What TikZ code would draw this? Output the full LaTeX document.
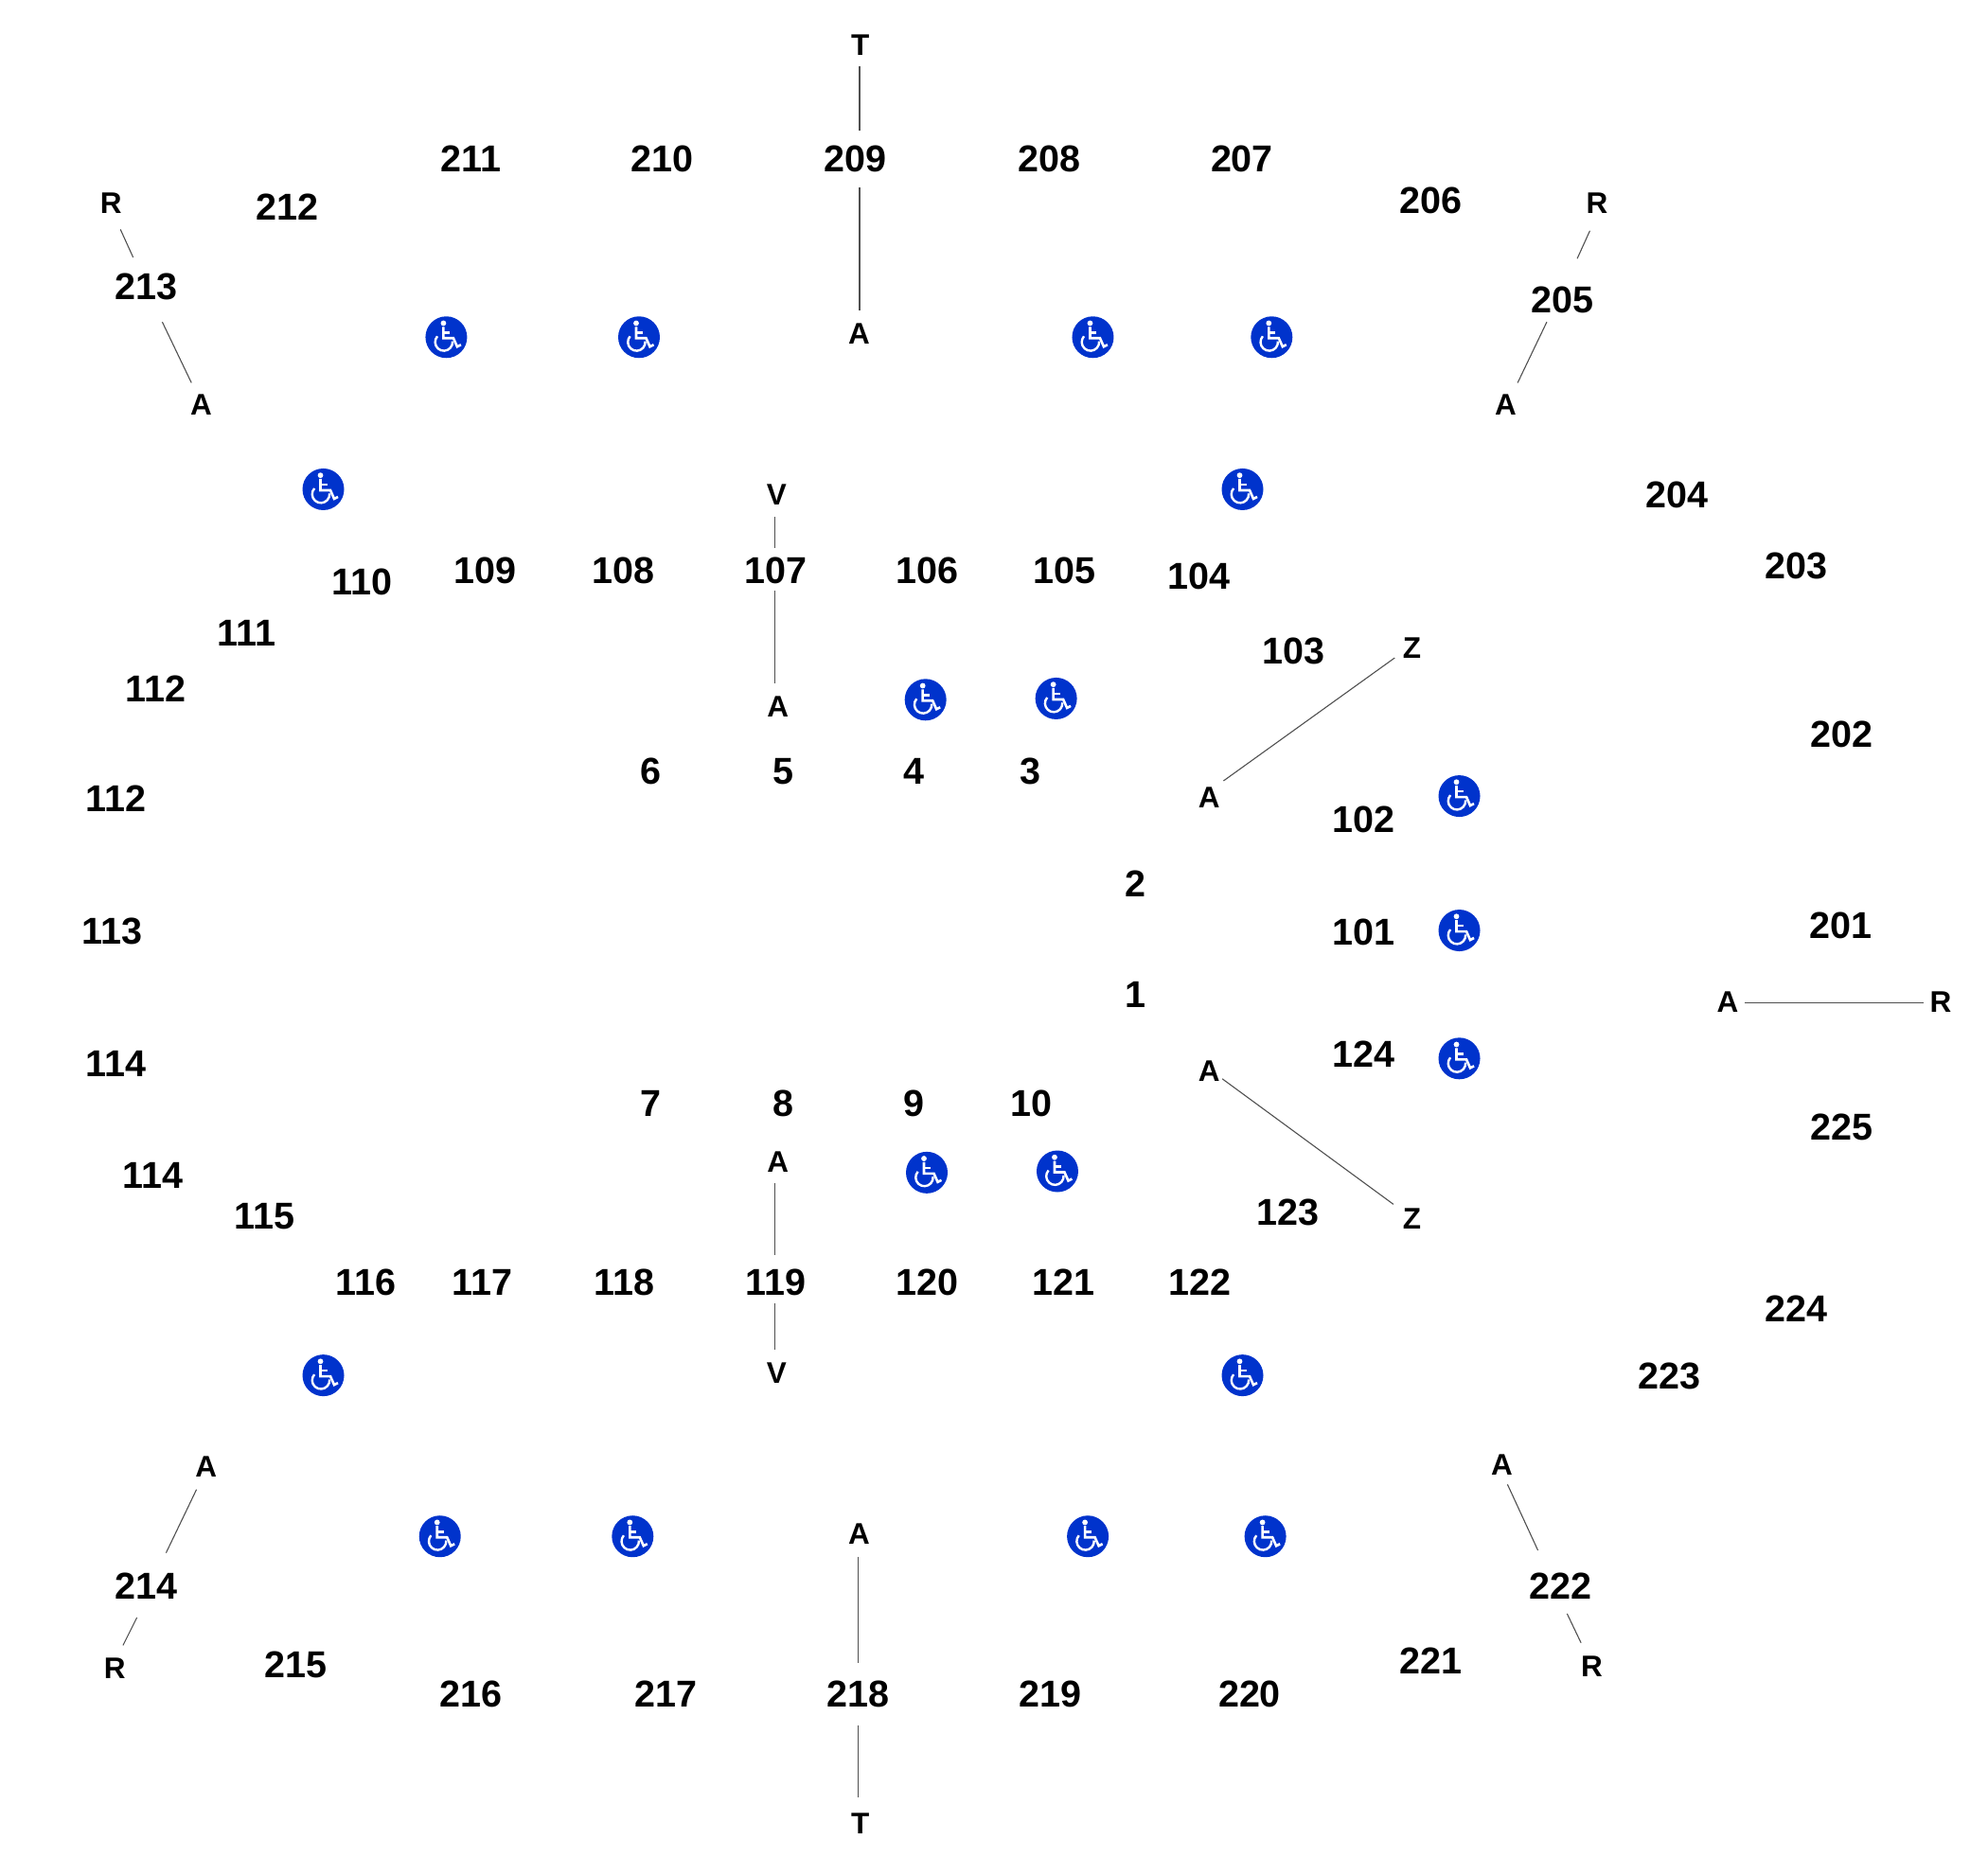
\documentclass[tikz,border=0pt]{standalone}
\usepackage{fontspec}
\setmainfont{Liberation Sans}
\definecolor{wcblue}{HTML}{0033CC}
\definecolor{linegray}{HTML}{505050}
\tikzset{
  num/.style={inner sep=0pt,xshift=0.8pt,yshift=-0.4pt,font=\fontsize{39.5}{39.5}\bfseries\selectfont},
  let/.style={inner sep=0pt,xshift=0.8pt,yshift=-0.4pt,font=\fontsize{31.5}{31.5}\bfseries\selectfont},
  conn/.style={draw=linegray,line width=1.1pt},
  wcdisc/.style={circle,fill=wcblue,minimum size=44pt,inner sep=0pt},
  wcglyph/.style={draw=white,line width=2.6pt,line cap=butt,line join=miter},
}
\newcommand{\wheel}[3]{%
  \node[wcdisc] (#1) at (#2,#3) {};
  \begin{scope}[shift={(#1.center)}]
    \fill[white] (-3pt,14.8pt) circle (2.9pt);
    \draw[wcglyph] (-3pt,11pt) -- (-3pt,-1pt) -- (7.5pt,-1pt) -- (11.5pt,-10pt) -- (15.5pt,-8pt);
    \draw[wcglyph] (-3pt,5pt) -- (4pt,5pt);
    \draw[wcglyph,line width=2.4pt] (-9.4pt,1pt) arc[start angle=138,end angle=365,radius=9.2pt];
  \end{scope}}
\newcommand{\link}[6]{\draw[conn] ([shift={(#2)},shift={(-0.6,-0.3)}]#1.center) -- ([shift={(#5)},shift={(-0.6,-0.3)}]#4.center);}
\begin{document}
\begin{tikzpicture}[x=1.33929pt,y=-1.33929pt]
\useasboundingbox (0,0) rectangle (1568,1478.4);
\foreach \n/\x/\y in {211/371/125,210/522/125,209/674/125,208/827/125,207/979/125,206/1128/158,205/1232/236,204/1322/390,203/1416/446,202/1452/579,201/1451/730,225/1452/889,224/1416/1032,223/1316/1085,222/1230/1251,221/1128/1310,220/985/1336,219/828/1336,218/676/1336,217/525/1336,216/371/1336,215/233/1313,214/115/1251,213/115/226,212/226/163,110/285/459,109/382/450,108/491/450,107/611/450,106/731/450,105/839/450,104/945/454,103/1020/513,102/1075/646,101/1075/735,124/1075/831,123/1015/956,122/946/1011,121/838/1011,120/731/1011,119/611/1011,118/492/1011,117/380/1011,116/288/1011,115/208/959,113/88/734,111/194/499,6/513/608,5/617/608,4/720/608,3/812/608,2/895/697,1/895/784,7/513/870,8/617/870,9/720/870,10/813/870}
  \node[num] (n\n) at (\x,\y) {\n};
\node[num] (n114a) at (120,927) {114};
\node[num] (n114b) at (91,839) {114};
\node[num] (n112a) at (91,630) {112};
\node[num] (n112b) at (122,543) {112};
\foreach \m/\t/\x/\y in {t1/T/678/35,a1/A/677/263,v1/V/612/390,a2/A/613/557,r1/R/87/160,a3/A/158/319,r2/R/1259/160,a4/A/1187/319,z1/Z/1113/511,a5/A/953/629,a6/A/1362/790,r3/R/1530/790,a7/A/953/845,z2/Z/1113/961,a8/A/613/916,v2/V/612/1083,a9/A/162/1157,r4/R/90/1316,a10/A/677/1210,t2/T/678/1438,a11/A/1184/1155,r5/R/1255/1314}
  \node[let] (\m) at (\x,\y) {\t};
\wheel{w1}{352}{266}\wheel{w2}{504}{266}\wheel{w3}{862}{266}\wheel{w4}{1003}{266}
\wheel{w5}{255}{386}\wheel{w6}{980}{386}\wheel{w7}{730}{552}\wheel{w8}{833}{551}
\wheel{w9}{1151}{628}\wheel{w10}{1151}{734}\wheel{w11}{1151}{835}\wheel{w12}{731}{925}
\wheel{w13}{834}{924}\wheel{w14}{255}{1085}\wheel{w15}{980}{1085}\wheel{w16}{347}{1212}
\wheel{w17}{499}{1212}\wheel{w18}{858}{1212}\wheel{w19}{998}{1212}
\link{t1}{0,17}{}{n209}{4,-22}{}
\link{n209}{4,23}{}{a1}{1,-18}{}
\link{v1}{-1,18}{}{n107}{0,-18}{}
\link{n107}{0,16}{}{a2}{-2,-18}{}
\link{r1}{8,21}{}{n213}{-10,-23}{}
\link{n213}{13,28}{}{a3}{-7,-17}{}
\link{r2}{-5,22}{}{n205}{12,-32}{}
\link{n205}{-12,18}{}{a4}{10,-17}{}
\link{z1}{-13,8}{}{a5}{12,-13}{}
\link{a7}{11,6}{}{z2}{-14,-11}{}
\link{a6}{14,1}{}{r3}{-13,1}{}
\link{a8}{-2,17}{}{n119}{0,-21}{}
\link{n119}{0,17}{}{v2}{-1,-18}{}
\link{a9}{-7,18}{}{n214}{16,-26}{}
\link{n214}{-7,25}{}{r4}{7,-18}{}
\link{a10}{0,18}{}{n218}{1,-24}{}
\link{n218}{1,25}{}{t2}{-1,-20}{}
\link{a11}{5,16}{}{n222}{-17,-28}{}
\link{n222}{6,22}{}{r5}{-8,-18}{}
\end{tikzpicture}
\end{document}
